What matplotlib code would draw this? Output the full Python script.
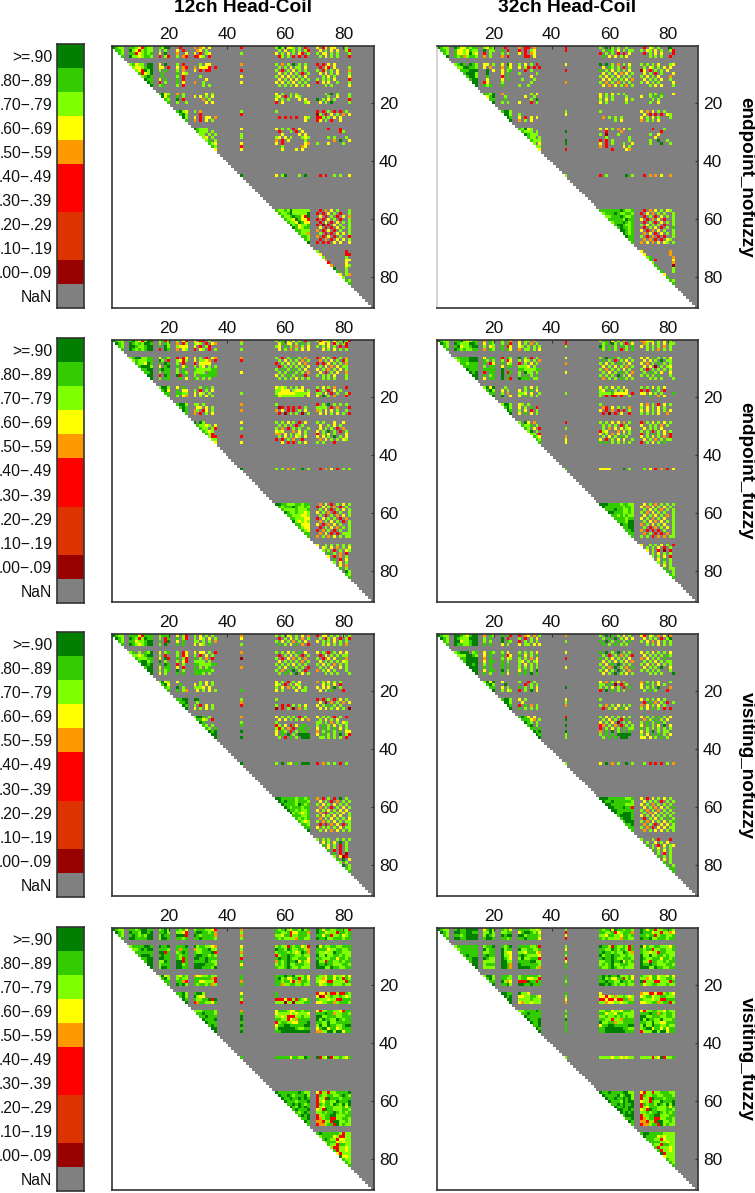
import numpy as np
import matplotlib
matplotlib.use('Agg')
import matplotlib.pyplot as plt
from matplotlib.colors import ListedColormap, BoundaryNorm

plt.rcParams['font.family'] = ['Liberation Sans', 'DejaVu Sans']

W, H = 755, 1193

# legend, top to bottom
legend_labels = ['>=.90', '.80\u2212.89', '.70\u2212.79', '.60\u2212.69', '.50\u2212.59', '.40\u2212.49',
                 '.30\u2212.39', '.20\u2212.29', '.10\u2212.19', '.00\u2212.09', 'NaN']
legend_codes = [9, 8, 7, 6, 5, 4, 3, 2, 1, 0, -1]
code_colors = ['#808080', '#990000', '#DD3300', '#DD3300', '#FF0000', '#FF0000',
               '#FF9900', '#FFFF00', '#7FFF00', '#33CC00', '#007F00']

col_titles = ['12ch Head-Coil', '32ch Head-Coil']
row_titles = ['endpoint_nofuzzy', 'endpoint_fuzzy', 'visiting_nofuzzy', 'visiting_fuzzy']
ticks = [20, 40, 60, 80]

# node groups that have values (1-based first, last)
groups = [(1, 4), (7, 14), (17, 20), (23, 26), (29, 36), (45, 45), (57, 68), (71, 82)]

# each row starts on the diagonal, blocks are split by node group
# digit = first decimal of the value, . = NaN
en12 = [
    "9877 88764877 8799 .4.. 5.56.6.. 4 797.667.7.4. 6.46.66...7.",
    "887 97647877 7.7. 6.4. .56.7... . .7.6.87.7.74 .6.7.6.6..74",
    "87 88467878 6.9. 5..6 6.4.76.. 7 6.7.6.7.64.7 7.66.7.7...7",
    "8 97767887 4.74 7.54 4467.4.. . .47.7.4.4.4. .7.6.7.7...4",
    "78677.99 6.9. 7.4. ..7.66.. 5 7.5.7.9.7.7. 4.4.6.6.....5",
    "7667899 66.4 6.54 5.6664.4 . .7.7.6.77.6.6 .4.64.6....7",
    "764979 7.8. 7.5. 6.4.44.. 4 7.4.7.6.7.7. 7.47.7.6...5",
    "84679 .8.. 8.67 ........ . .6.7.6.7.4.7 .6.6.7.6...7",
    "7898 .8.. 7.4. ..7..... 6 7.6.6.7.7.6. ..7.6.7....6",
    "988 6.8. 8.4. ....6... . .6.7.6.6.7.7 7.7.7.6....4",
    "98 4.7. 8.6. 5..7.... 6 6.6.7.6.7.7. 4.6.6..7...7",
    "9 78.. 7.4. ...7.7.. . .7.7.7.6.7.6 ...7.7.....6",
    "8967 5.7. ....6.7. . 6.7..7.7.... ...7.9.7...7",
    "968 8.7. 6.6.7.6. . 76.4.7.67... ....7..6...7",
    "87 9.4. ...5.7.. . 6.7.7...6.6. 9.7.6.7....4",
    "8 7..7 ....6.6. . 4.6.......76 .6.7.9.....7",
    "8976 7.5. 7.6.5.7. 7 4.4.7.4.4.7. 6.7.6.7.7...4",
    "897 ..4 46.4.67. . 07.4.6.7.5.6 7.7.7.6.7...7",
    "97 6.4.66.5 . .4.4.4.4..67 447.7.6.6...4",
    "8 5.4.6.7. . ..........6. 46.7.4..6...4",
    "98777... 6 6.7.7.4.6... ....4...4.",
    "8777.7. . .4...7.4.6.. ........47",
    "77.7.7 7 ..6.....6.6. ..........",
    "76.7. 7 76.6.7...767 ....7.7...7",
    "78.7 . 5.4.6.....7.. ......5.9..6",
    "876 6 6.4.......65 7...6....7",
    "87 4 ..7......56 ........",
    "6 6 ..6....6.6.. .",
    "9 6.79....7.9 .4.4..7.7..6",
    "877879777777 .4.5.6.7...7.",
    "87789777779 4.4.6.7.4..77",
    "8778988649 .6.4.7.4.6.5",
    "877698664 4.4.6.7.4..7",
    "87769866 .4.6.4.6.7.7",
    "9786778 4.0.4.6.7..7",
    "986788 .6.4.4.6.7.7",
    "88777 5.4.6.4.7..7",
    "8775 .7.4.4.6.6.7",
    "887 5.4.6.4.7..4",
    "87 .4.5.4.6.6.7",
    "9 4.4.4.6.6..6",
    "7.........4.", "6........44", "7.......7.", "5......66", "4.....6.", "5....67",
    "9...7.", "8..7.", "6.75", "7..", "87", "8",
]
en32 = [
    "9877 98668788 7687 .4.. 5.44.5.. 4 7.9.7.7..7.. .4.67.7...9.",
    "887 86676877 9.77 8.4. 4.4.76.. 4 .7.87.6.7.77 7.67.6.7..74",
    "87 86676976 4.7. 7.7. 6.4.56.. . 4.7.7.4.4.6. .4.7.6.6...4",
    "9 87857887 5.7. 5.4. ..44.6.. . .8.6.6.7.6.. ...7.7.7..4.",
    "7898.987 66.7 6.96 7.6.7.4. 6 9.9.7.5.7.6. 7.7.7.6...76",
    "7799887 6.5. 5.86 6.74.4.4 . .6.87.7.4.7.4 .7.67.7.6.6",
    "888999 .9.6 6.78 ..4.7... 4 8.7.6.7.7.6. 06.4.7.7.6.",
    "89997 .9.. 6.8. 7.....7. . .6.7.6.5.6.7 .6.7.4.7...6",
    "8997 .8.. 4.8. ....6... . 7.6.7.6.7.7. 7.6.7.6...5",
    "899 .6.. 6.8. .7...7.. . .6.6.7.7.6.5 .6.7.7.6..7",
    "99 46.. 7.. ....7... 5 7.5.7.5.7.7. 7.6.7.7....6",
    "9 878. 8... 7..7.... . .6.5.6.7.5.7 ...7.6.6...7",
    "8879 5... ....7.6. . 6.7.6.7.7... ...7.7.8...6",
    "689 .7.. ..6..7.. . 6.7.7....7.. 6..7.8.7....6",
    "88 .8.. ....7.9. . 7.6.7....6.7 ....7.7..",
    "9 7.7. 6...4.7. . 6.7......7.. ...7..6.",
    "8997 .... 7.7.77.. 7 6.5.6.7.7... 7.6.7.7...4",
    "997 7.. 6.7.6.5. . .6.4.4.4.67 7.4.6.7...4",
    "98 6.4.6.6.6 . .5.7.7.7.. 6.7.6.7...7",
    "9 5.7.6.. . .....7.6.. 5.7.7.6...",
    "87967... . 6.6.7.5.6.7. ....4...7.",
    "8777.7. 9 ..4....5.. .......4",
    "98777. . 7.0...7.... ...7..6.",
    "877.7 . ..7.......7 .....6....",
    "8777 9 4.4.7.....7 ...7..9..7",
    "7.6 9 6.4.7...7..6 ...7...9..7",
    "77 . 5.4.....6.7 ........",
    "6 4 ....4....65. .",
    "7 4.7......9.7 .4.5.5.6..5",
    "888888898778 .4.5.6.7.67.",
    "78889877887 4.6.5.7.7..7",
    "7788898778 .4.7.4.6.7.7",
    "888887988 6.4.5.6.4..7",
    "78889878 .4.7.4.6.7.7",
    "8998778 7.6.7.7.4..7",
    "898878 .4.7.6.4.7.8",
    "99878 6.4.5.6.7..7",
    "9878 .5.6.4.6.7.7",
    "988 7.4.5.4.4..7",
    "88 .5.5.4.4.67",
    "8 5.6.5.6.67.7",
    "6.........5.", "6........5.", "78.......5", "8.4.....6.", "7......5", "8.....0",
    "8....7", "8...7", "6..", "8..", "87", "8",
]
ef12 = [
    "9877 89764799 7847 7.64 6.44.7.. 5 7.8.7.6.7.4. 74667.6.7.74",
    "987 98787998 7.87 5.47 767.4.65 7 .68.66.7.8.7 .66.6.47.74",
    "87 99877899 8.97 7666 6.4.74.. . 76.8.7.5.7.6 7.7.6.7.4.4",
    "8 98787899 4.98 5.67 4.67.4.7 7 .6.7.5.7.6.6 ..6.7.6.7.7.",
    "78997788 6.87 4.46 6.7.4.65 5 7.4.7.8.7.5. 4.6.7.4.7.5",
    "7877788 97.4 7647 6.7765.4 4 .7.6.7.7.5.7 .5.7.6.7.47",
    "877698 8.98 7.4. 4.6666.. . 4.7.6.7.6.5. 4.4.6.7.7.5",
    "89997 6.89 8.68 7.76.7.7 . .4.7.7.7.7.6 .7.6.5.6.77",
    "8899 8988 7.8. 87777788 . 7.8.7.8.7.6. 6.7.5.7.6.7",
    "889 7.88 7.87 7777.888 6 .7.7.8.7.7.5 .6.4.7.6..5",
    "99 4.98 94.8 7.888888 . 6.7.8.7.8.4. 7.7.7.6...7",
    "9 7.88 .8.6 87.7.7.. . .7.7.7.6.7.7 ..7.7.7...7",
    "7997 6.8. ..7.8.7. . 6767.7.7.6.. 7.6.7.5...4",
    "896 8.66 7.4.7.6. . 77666.7666.7 4.7.4.6.7...7",
    "88 8877 6.67.7.. 7 766666677776 77.6.4.7..74",
    "8 7.65 6.7.6.7. . 8677777777.6 6.9.7.5...4.",
    "8997 77.7 5.8.7.5. 7 4.7.9.7.7.7. 7.66.7.6.5.7",
    "898 .66.6.7.4 . .04.4.4.4.7.6 7777.4.5...4",
    "98 57.46.7.5 5 5.6.4.4.7.6. 57.6.6.7..7.5",
    "8 5.4.7.6. . .4.0.7.7.0.7 .6.6.7.6.7.4",
    "9.97.... 6 7.7.6.7.4.6. 7.7...6..6.",
    "87767.6 . .7.7.7.4.7.. .6..7.6.7...",
    "877.74 7 7.5.4.7.7..7 .6.7.7.4.5",
    "8767. . 676...5.6.7 6.7.9.7.4.7.",
    "874. . 55.6.7.76.7. 4.7.6.7...6",
    "744 4 .7.6.7.67.6. 6.6.7.9.7.6.",
    "77 . 4.4.7.5..4. .5.6.7.7.67",
    "6 6 ..6.4.4.7.6. 7.7...4.",
    "9 7.7.5.7..9.7 .4.5.6.4.7.7",
    "998877788788 .5.6.4.7.6.7.",
    "87888987787 4.6.7.5.4.7.7",
    "8777787778 .7.6.4.7.6.77",
    "987787767 6.7.5.4.7..77",
    "88777667 .7.4.7.5.6.77",
    "8877766 4.6.7.7.4.5.7",
    "976767 .5.7.6.7.4.77",
    "88666 6.4.5.6.7..77",
    "8766 .4.7.6.5.7.77",
    "876 4.5.7.4.7..77",
    "88 .5.6.4.4.7777",
    "8 5.7.5.6.7.777",
    "6..7.7.7.7.7", ".67.6.5.7.6", "7.7.4.7.67.", ".8.7.5.4.7", "6.4.5.7.6", ".8.4.6.7",
    "7.6.7.7", ".6.5.7", "8.7.6", ".97", "87", "8",
]
ef32 = [
    "9877 88976788 5.87 7.85 6.77.5.. 4 7.8.6.7.5.8. 55667.7.6.7.",
    "987 98777998 6.87 7.84 6.7.5.7. 4 .78.97.7.4.6 .57.6.7.6.77",
    "87 89677899 7.67 8.46 67.7.7.7 7 97.8.7.8.7.8 6.7.7.7.5.7.",
    "8 98787788 5.87 8.86 5.77.7.6 . .7.8.7.4.7.8 ..7.7.5.7.7.",
    "78888999 6.88 4.87 9.7.4.7. 6 7.9.8.7.8.7. 6.6.8.7.7.6",
    "7888999 87.7 7.46 7.67.7.5 . .8.7.4.7.6.7 .6.6.7.9.77",
    "887888 8.46 8.67 4.7.6.7. 5 7.6.7.8.7.6. 6.5.7.8.7.7",
    "88888 7.88 6.88 7776.7.. . .6.7.6.7.5.7 .6.6.0.7.76",
    "9888 8888 9.8. 88777788 . 7.5.7.7.6.7. 7.4.7.7.7.7",
    "989 4.88 9.48 7.977.7 6 .7.6.7.8.7.5 .7.8.7.6..6",
    "99 8.78 9.8. 7.8.7.8. . 7.7.7.9.7.6. 7.7.7.8...7",
    "9 6.88 9.84 9888.77. . .5.7.7.8.7.7 ...7.7.7...7",
    "7969 .7.. ..7.6.7. . 6.7.6.7.6... 7.7.6.7.6...7",
    "897 6.7. 6.7.8.6. . 76.8.7.7.6. 4.4.8.7.4..",
    "88 7.5. 776.6..7 7 7777866666.4 66.6.7.7...8",
    "9 9..6 6.8.7.7. . 7.4.44.4..7 ...8..5.6.",
    "7997 67.7 .7.7.8.7 7 6.5.7.4.6.7. 6.7.6.8.7...7",
    "897 6.7.8.4. . .54.6.7.7.5.6 7.6.7.6.7...6",
    "98 7.6.4.7.5 . 6.4.5.4.4.7. 6.6.7.6.7.6.",
    "9 6.8.6.7. . .4.0.4.6..4.7 7.7.7.6..5",
    "7.96.5.. 4 7.7.6.6.5.7. 4.7.6.7.6.7",
    "8778.7. . .7.7.7.4.7.. 6..7.7.5.7.",
    "87.6.4 7 .7.5.6.6.76 .6.7.7.6.",
    "79.7. . 476...5.6.7 7.7.4.7.6.7.",
    "77.4 . 6.7.5.6.7.7. 4.7.8.7.6.4",
    "876 5 .7.6.7.8.7.. 6.7.6.7.5.4",
    "87 6 6.4.7.6.6..7 .6.7.5.7.77",
    "8 6 8.8.7.7.7.7. 4.7.6.7.8",
    "8 6666....9.7 .7.6.4.5.4.6",
    "999888878877 .6.7.5.7.7.7.",
    "98888887887 6.5.6.7.6.7.7",
    "8889887787 .7.6.7.5.7.76",
    "998887787 7.5.6.7.7..77",
    "88787877 .6.7.6.7.5.77",
    "8888788 6.7.5.7.6..7",
    "888799 .7.6.5.6.7.7",
    "98899 5.7.6.7.6..77",
    "8899 .7.4.5.7.6.7",
    "889 5.4.4.4.7..77",
    "88 .5.7.4.4.5.77",
    "8 7.7.4.5.5.777",
    "6..7.7.6.7.4", ".7.7.6.4.7", "6.7.4.0.4.7", ".7.6.7.7.", "7.7.6.4.7", ".6.8.7.4",
    "7.7.7.9", ".6.7.", "8.77", "8.7", "87", "8",
]
vn12 = [
    "9877 88864888 7888 6.74 7.6.7.7. 5 7.7.67.7.6.5 4.66.7.7.7.7",
    "987 98747988 7.48 8.74 7.67.6.7 6 .4.7.6.7.5.7 .7.47.6.4.74",
    "87 88677899 8.49 6.8. 77.7.7.5 . 7.6.7.5.7.6. 6.7.7.6.7.7.",
    "8 98767899 7.9. 8.8. 6.67.8.. 7 .8.7.6.8.5.4 ..7.6.7.7.5.",
    "78.7.879 6.78 7.46 6.66.7.4 5 7.7.6.7.8.6. 6.7.4.7.6.6",
    "7767899 7.4. 7.46 7.4.6.7. . .4.7.6.7.4.7 .4.6.7.7.77",
    "877788 6.94 8.74 8.7.5.4. 0 7.4.6.5.7.5. 7.4.6.6.8.5",
    "89978 9.7. 7.64 7777.7.. . .6.7.7.7.5.7 .6.7.7.7.67",
    "9989 8.98 4.7. 88777788 . 7.7.7.6.7.7. 7.6.7.5.7.7",
    "899 6.88 6.4. 8.7.78.. 5 .7.6.8.7.7.4 .7.7.6..6.7",
    "99 7.78 9.7. 8888887. . 7.5.8.9.7.4. 5.7.6.7...7",
    "9 6.7. 8.8. 8887.7.. . .7.8.7.9.6.7 ...7.7.7...7",
    "7967 6... ..7.6.7. . 6.7.4.7.6... 5.7.6.7.7...6",
    "896 .8.. 6.7.6.7. . 67.4.7.67... ..6.7.6.4...7",
    "87 9.7. 7776.6.. . 7.6.5.7.6.7. 6.6.6.9.7...5",
    "8 8.75 .6.7.6.7. 8 6.7....6.77. .6.7.8...4.",
    "8899 99.. 7.6.7.6. 7 4.4.7.4.6.7. 6.7.5.7.8...7",
    "889 .7. 56.6.7.7 . .6.0.5.7.5.6 .4.7.7.6.7..6",
    "98 7.4.6.7.5 4 7.4.4.7.7.6. 6.7.8.7.7...4",
    "9 6.7.6.7. . 0.4.7.0.5.7. .6.6.7.6.7.0",
    "7998.7.. 5 6.7.7.7.4.7. 6.7.7.4.7.4.",
    "8867.4. . .6.6.7.7.6.5 .7.6.7.6...",
    "98 7.87 7 77.7.5.7.67 .7.6.7..7",
    "87.7. 8 47.6.4.6.88 7.8.7.6.7.7.",
    "87.8 . 747.5.4.88.8 6.8.7.8.6.7",
    "989 9 6.87.4.7.88 5.7.8.7.8.66",
    "99 . 6.8.9.7.9999 6.8.7.7.9.74",
    "9 9 .7.4.8.7.999 .77.7.7.7.4",
    "9 7.9.76.8.999 4.5.7.7.4.7",
    "998888878878 5.4.7.4.9.7.8",
    "98988878887 .6.7.4.5.7.77",
    "9888879878 7.6.7.6.7.7.7",
    "987888788 .5.7.4.7.6.77",
    "98878778 6.7.6.7.6.6.7",
    "9787678 .5.4.7.7.6.77",
    "888778 7.6.7.6.6..7",
    "87878 .5.7.6.7.7.66",
    "8767 7.5.7.6.7.77",
    "887 .4.4.5.6.4.7",
    "88 6.7.7.7.6.77",
    "9 .7.6.5.6.7.77",
    "7.7.7..7.7.7", ".6.7.6.9.7", "8.6.7.4.7.6", ".6.7.4.7.", "8.4.4.7.6", ".8.4.0.4",
    "7.604.", "8.9.6", "7.7.", "9.7", "87", "8",
]
vn32 = [
    "9877 99876899 5.87 8.84 4.56.5.7 5 7.9.8.7.6.7. 64.67.5.6.5.",
    "987 98777999 7.8. 9.4. 7.4.7.6. . .7.8.9.7.6.6 .6.7.7.4.79",
    "87 99677899 7.7. 9.87 4.7.7.7. 7 8.9.7.8.7.8. 7.6.5.6.7.7",
    "8 98877899 8.8. 6.7. 6.77.6.6 . .8.7.8.7.7.. ..7.7.6.7.7.",
    "78999.78 6.87 7.6. 7.7.7.6. 6 8.9.7.9.7.7. 6.7.6.7.7.6",
    "7779987 6.8. 8.46 8.6.7.8. . .7.4.7.5.7.4 .6.7.7.7.87",
    "889999 5.8. 7.67 7.7.5.6. 4 8.7.6.7.7.6. 5.6.7.7.8.",
    "89999 6.88 8.7. 76.7.76. . .6.7.6.7.6.5 .7.7.6.7.77",
    "9989 7.8. 8.8. 7.6.7.7. . 7.6.8.9.7.7. 7.6.7.6.7.7",
    "999 8.8. 8.8. 7.7.7.7. 6 .7.5.9.7.5.8 .6.7.7.9..6",
    "99 6.88 9.7. 6.8.7.9. . 7.6.7.9.7.5. 7.7.7.7...7",
    "9 8.7. 8.6. 8.8.9.8. . .6.7.9.7.6.7 ...7.7.7...9",
    "7969 6... 7..4.7. . 6.5.7.6.5... 5.7.7.6...7",
    "897 .9.. ..4.7.7. . 77.8.0.4.7. 6.8.7.6.7...",
    "88 6.7. 8.7.7.6. 9 7.7.6.7.4.8. 6.7.7.9...5",
    "9 7.67 4.7.9.6. . 4.9.8.7.7.. .7.8.7...4",
    "8997 6.7. 6.7.5.7. 7 6.7.7.6.7... 7.9.7.8...6",
    "997 .6. 7.7.7.8. . .4.8.5.7.4.7 7.7.7.6.7...",
    "98 4.8.5.7.7 5 7.5.7.6.7.7. 5.6.7.6.7...4",
    "9 8.7.7.7. . .4.7.6.8.6.. 7.6.8.7.4.4",
    "8986.6.. 4 7.6.7.7.6.7. 6.7.7.8.7.6",
    "88865.7 9 .7.6.7.4.8.. .5.7.8.7.6.",
    "987.7. . 6.7.6.0.7.7. 7.8.7.8.7.",
    "89.7. 9 45.7.5.4.7.7 6.8.7.6.9.6",
    "88.8 . 4.7.6.7.8.77 8.7.7.7.7.7",
    "989 9 5.8.9.7.8.8 6.7.9.7.77",
    "98 7 7.8.8.99999 7.6.8.8.7.6",
    "9 7 .7.8.8.999 66.6.7.8.7",
    "7 6.9.5.7..9.7 .7.4.4.4.7.5",
    "999888888778 6.4.6.7.6.7.8",
    "98898888887 .6.7.7.4.7.79",
    "9988888777 6.7.5.7.7.7.",
    "998889884 .6.7.5.6.7.8",
    "99888888 7.5.7.5.7.7.8",
    "9889998 .7.5.6.7.7.77",
    "899998 6.7.6.7.7.7",
    "89998 .4.7.6.7.8.77",
    "8999 7.5.6.7.6.78",
    "889 .5.7.4.6.6.77",
    "88 7.5.4.6.6.777",
    "8 .5.7.6.6.7.77",
    "7...7.4...4.", ".7..6.7.6.", "8.7.4.6.76", ".7.6.7.7.", "8.7.6.7.4", ".7.4.7.",
    "8.7.7.7", ".6.7.", "8.7.", "8.7", "88", "8",
]
vf12 = [
    "9877 88789988 7897 8786 78887764 5 878876887978 986887788774",
    "987 98879989 8897 7764 89988785 7 887784668885 988677748878",
    "87 89878799 7988 9994 98788885 5 776884778887 886884778678",
    "8 99888899 7998 8878 88988887 7 878777758877 988977888788",
    "78888998 9889 8889 97887765 6 787748788674 968778877888",
    "7789899 8887 8588 57788977 7 988798778875 888867788778",
    "888888 9948 7898 87788894 5 788878767985 877677988777",
    "89998 8988 8788 89988787 7 478898877877 977977887877",
    "8899 9988 8748 99889888 4 898898778886 887778868878",
    "899 7798 9948 88889877 8 587898896876 977488778788",
    "99 7888 9978 99998887 6 787897788877 988988777887",
    "9 7998 9988 99988879 8 877898778777 999779887788",
    "7967 7687 56677877 8 888988977786 877688677686",
    "897 7877 88888854 8 897866884786 775688687487",
    "88 8854 88667774 5 887886475887 766744777748",
    "8 9897 87887857 8 885778877877 867788777877",
    "8897 8997 65887767 8 466474474487 876697887797",
    "897 9766 88887777 8 604678778767 678867788777",
    "98 87788949 7 444644748768 877767743888",
    "9 45887768 4 777077077788 667788578887",
    "77788887 5 688876688788 647788776488",
    "8898887 8 677776767776 888988577887",
    "889888 9 776744477877 997788877888",
    "98889 9 887746758888 979887798788",
    "9888 8 478877668889 887797788888",
    "898 9 688998888899 797798877899",
    "99 8 799999987788 689968867888",
    "9 9 889999999999 557799799688",
    "8 888886887798 947694778768",
    "988888889877 647747788889",
    "98898788897 487788778987",
    "9889889898 477498887888",
    "988878889 476887798889",
    "88989878 487887987979",
    "9879898 476888777868",
    "898889 674988777887",
    "87898 778788987878",
    "8989 477889977788",
    "889 457884477887",
    "98 554774997787",
    "8 455788497877",
    "898888887477", "78888674477", "8987746677", "788867677", "87748877", "7447767",
    "847767", "64777", "9667", "877", "87", "8",
]
vf32 = [
    "9877 89889999 6897 8786 88887767 7 878869887887 986884778887",
    "987 99889988 7797 7788 68998786 4 887784678885 988867747756",
    "87 88789999 7987 9899 99788887 6 776887768878 887884788778",
    "8 99889999 8998 8878 88988886 4 878777758877 988977888788",
    "78888888 7889 8789 88887784 7 988748778748 968778877768",
    "7888888 9788 9788 97788778 6 887798788748 878847788778",
    "888888 7788 9766 77688865 8 898878779875 877677488777",
    "89888 8988 9776 89877776 7 978898877877 977977887877",
    "8899 9877 9876 79778884 4 898898778887 987788868878",
    "899 7777 9977 88889977 6 778898896878 977488778788",
    "99 7888 9985 98888887 8 787897788877 988988777887",
    "9 7777 9985 99998875 8 877898778777 999779887788",
    "7997 8887 78888887 8 898988977786 877688677686",
    "897 8877 78866774 8 897866884786 775688677887",
    "88 9756 44498848 7 889887798878 947774477748",
    "9 8897 99889888 8 998987877877 867788777877",
    "9988 9776 86887776 6 566446447876 776797887797",
    "989 66778876 7 664675778767 678867788777",
    "99 77778777 6 446446448857 877767743888",
    "9 65776777 5 775667767788 667788578847",
    "77888898 7 778867768887 647788776877",
    "8898888 8 886776887777 888988587887",
    "988888 7 778778787877 997788877887",
    "98889 9 887747758888 979887797778",
    "9889 8 977885778888 887797766888",
    "889 8 688998888899 797798877877",
    "98 8 889999998877 789968868688",
    "9 8 889999999888 477799799688",
    "7 777767767677 777747694778",
    "988988889977 647747788877",
    "98888978997 487788778887",
    "9889889897 477498887888",
    "988879899 677487798889",
    "88989889 487887987979",
    "9889899 476888777868",
    "998898 674988777887",
    "98989 778788987878",
    "8999 477889977788",
    "889 457884477887",
    "98 554774997787",
    "8 455788497877",
    "899888887777", "98888676777", "8887746777", "888877677", "87748877", "8477767",
    "847767", "94777", "6777", "877", "87", "8",
]
panels = [[en12, en32], [ef12, ef32], [vn12, vn32], [vf12, vf32]]


def build_matrix(rows):
    # upper triangle is grey (NaN code), lower triangle stays empty
    m = np.full((90, 90), np.nan)
    m[np.triu_indices(90)] = -1
    nodes = [(g, n) for g, (a, b) in enumerate(groups) for n in range(a, b + 1)]
    for (g, n), text in zip(nodes, rows):
        blocks = text.split(' ')
        start = n
        for k, block in enumerate(blocks):
            if g + k >= len(groups):
                break
            last = groups[g + k][1]
            if k > 0:
                start = groups[g + k][0]
            for c, ch in zip(range(start, last + 1), block):
                if ch != '.':
                    m[n - 1, c - 1] = int(ch)
    return m


def px_axes(x0, y0, x1, y1):
    return fig.add_axes([x0 / W, 1 - y1 / H, (x1 - x0) / W, (y1 - y0) / H])


cmap = ListedColormap(code_colors)
cmap.set_bad('white')
norm = BoundaryNorm(np.arange(-1.5, 10.5), cmap.N)

fig = plt.figure(figsize=(W / 100, H / 100), dpi=100)

col_x = [(112, 374), (437, 698)]
row_y = [(46, 308), (340, 602), (634, 896), (928, 1190)]
leg_y = [(44, 308), (338, 603), (632, 897), (927, 1191)]

for r in range(4):
    # colour key
    lax = px_axes(57, leg_y[r][0], 84, leg_y[r][1])
    lax.imshow(np.array(legend_codes).reshape(-1, 1), cmap=cmap, norm=norm, aspect='auto',
               interpolation='nearest')
    lax.set_xticks([])
    lax.set_yticks(range(len(legend_labels)))
    lax.set_yticklabels(legend_labels, fontsize=11.3, color='#111111')
    lax.tick_params(axis='y', length=0, pad=3.5)
    for s in lax.spines.values():
        s.set_color('#333333')
        s.set_linewidth(1.2)

    for c in range(2):
        ax = px_axes(col_x[c][0], row_y[r][0], col_x[c][1], row_y[r][1])
        ax.imshow(build_matrix(panels[r][c]), cmap=cmap, norm=norm, aspect='auto',
                  interpolation='nearest', extent=(0.5, 90.5, 90.5, 0.5))
        ax.xaxis.tick_top()
        ax.yaxis.tick_right()
        ax.set_xticks(ticks)
        ax.set_yticks(ticks)
        ax.tick_params(axis='x', direction='in', length=2, pad=3, labelsize=12.5, width=0.8,
                       color='#333333', labelcolor='#111111')
        ax.tick_params(axis='y', direction='in', length=2, pad=3.5, labelsize=12.5, width=0.8,
                       color='#333333', labelcolor='#111111')
        for s in ax.spines.values():
            s.set_color('#333333')
            s.set_linewidth(1.2)
        if r == 0 and c == 1:
            ax.spines['left'].set_color('#cccccc')
    fig.text(746 / W, 1 - (row_y[r][0] + row_y[r][1]) / 2 / H, row_titles[r], rotation=-90,
             ha='center', va='center', fontsize=13.6, fontweight='bold', color='black')

for c in range(2):
    fig.text(sum(col_x[c]) / 2 / W, 1 - 7.5 / H, col_titles[c], ha='center', va='center',
             fontsize=13.8, fontweight='bold', color='black')

fig.savefig('out.png', dpi=100)
